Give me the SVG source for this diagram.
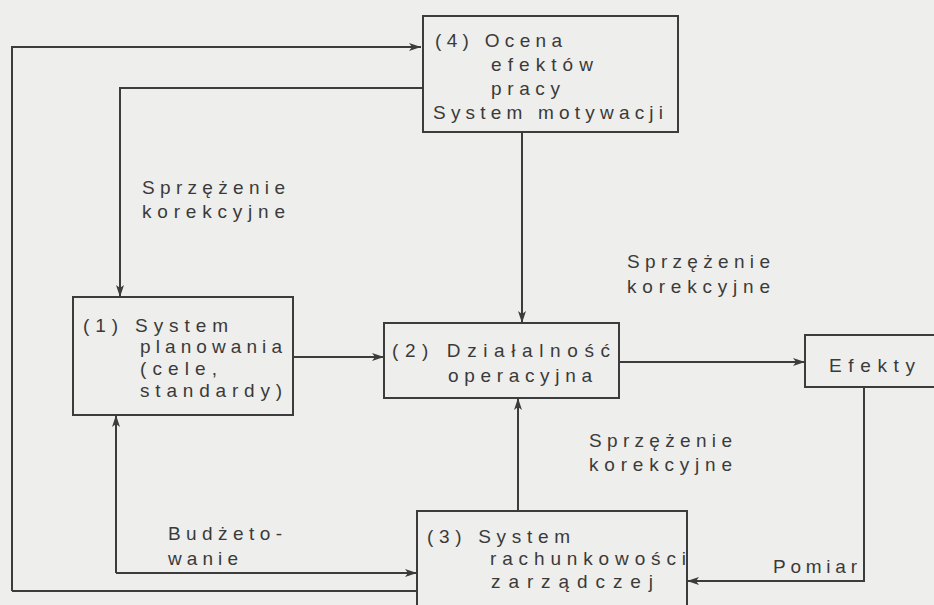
<svg xmlns="http://www.w3.org/2000/svg" width="934" height="605" viewBox="0 0 934 605">
<style>
.bg{fill:#eeeeec}
.box{fill:none;stroke:#3c3c3c;stroke-width:2}
.ln{fill:none;stroke:#3c3c3c;stroke-width:2}
text{font-family:"Liberation Sans",Arial,sans-serif;font-size:19px;fill:#3a3a3a}
</style>
<defs>
<marker id="ah" viewBox="0 0 12 8" refX="12" refY="4" markerWidth="12" markerHeight="8" markerUnits="userSpaceOnUse" orient="auto">
<path d="M0,0 L12,4 L0,8 L3,4 Z" fill="#3c3c3c"/>
</marker>
</defs>
<rect class="bg" x="0" y="0" width="934" height="605"/>

<g id="connectors">
<path class="ln" d="M12,591 L12,47 L421,47" marker-end="url(#ah)"/>
<path class="ln" d="M12,591 L417,591"/>
<path class="ln" d="M423,88 L120,88 L120,297" marker-end="url(#ah)"/>
<path class="ln" d="M293,357 L384,357" marker-end="url(#ah)"/>
<path class="ln" d="M522,132 L522,323" marker-end="url(#ah)"/>
<path class="ln" d="M518,511 L518,398" marker-end="url(#ah)"/>
<path class="ln" d="M619,362 L805,362" marker-end="url(#ah)"/>
<path class="ln" d="M864,387 L864,581 L687,581" marker-end="url(#ah)"/>
<path class="ln" d="M116,573 L116,415" marker-end="url(#ah)"/>
<path class="ln" d="M116,573 L417,573" marker-end="url(#ah)"/>
</g>

<g id="labels">
<text x="142" y="194" textLength="143" lengthAdjust="spacing">Sprzężenie</text>
<text x="142" y="218" textLength="143" lengthAdjust="spacing">korekcyjne</text>
<text x="627" y="268" textLength="143" lengthAdjust="spacing">Sprzężenie</text>
<text x="627" y="293" textLength="143" lengthAdjust="spacing">korekcyjne</text>
<text x="589" y="447" textLength="143" lengthAdjust="spacing">Sprzężenie</text>
<text x="589" y="471" textLength="143" lengthAdjust="spacing">korekcyjne</text>
<text x="168" y="540" textLength="114" lengthAdjust="spacing">Budżeto-</text>
<text x="168" y="565" textLength="70" lengthAdjust="spacing">wanie</text>
<text x="773" y="573" textLength="84" lengthAdjust="spacing">Pomiar</text>
</g>

<g id="node4">
<rect class="box" x="423" y="16" width="255" height="116"/>
<text x="435" y="47" textLength="127" lengthAdjust="spacing">(4) Ocena</text>
<text x="491" y="71" textLength="102" lengthAdjust="spacing">efektów</text>
<text x="491" y="95" textLength="69" lengthAdjust="spacing">pracy</text>
<text x="433" y="119" textLength="230" lengthAdjust="spacing">System motywacji</text>
</g>

<g id="node1">
<rect class="box" x="73" y="297" width="220" height="118"/>
<text x="83" y="332" textLength="145" lengthAdjust="spacing">(1) System</text>
<text x="140" y="353" textLength="142" lengthAdjust="spacing">planowania</text>
<text x="140" y="375" textLength="77" lengthAdjust="spacing">(cele,</text>
<text x="140" y="397" textLength="142" lengthAdjust="spacing">standardy)</text>
</g>

<g id="node2">
<rect class="box" x="384" y="323" width="235" height="75"/>
<text x="392" y="357" textLength="218" lengthAdjust="spacing">(2) Działalność</text>
<text x="448" y="382" textLength="144" lengthAdjust="spacing">operacyjna</text>
</g>

<g id="nodeEfekty">
<rect class="box" x="805" y="335" width="140" height="52"/>
<text x="829" y="372" textLength="86" lengthAdjust="spacing">Efekty</text>
</g>

<g id="node3">
<rect class="box" x="417" y="511" width="270" height="110"/>
<text x="427" y="543" textLength="143" lengthAdjust="spacing">(3) System</text>
<text x="490" y="565" textLength="196" lengthAdjust="spacing">rachunkowości</text>
<text x="491" y="588" textLength="162" lengthAdjust="spacing">zarządczej</text>
</g>
</svg>
